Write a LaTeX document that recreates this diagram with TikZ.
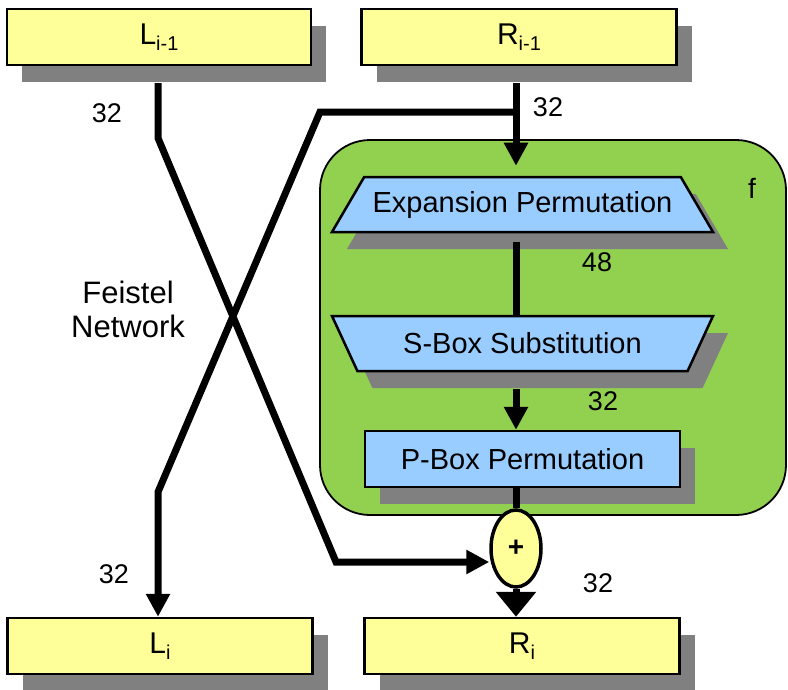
\documentclass[tikz,border=0pt]{standalone}
\usepackage{fontspec}
\setmainfont{Liberation Sans}
\usetikzlibrary{arrows.meta,shapes.geometric,shadows}
\definecolor{boxyellow}{HTML}{FFFF99}
\definecolor{boxblue}{HTML}{99CCFF}
\definecolor{fgreen}{HTML}{92D050}
\definecolor{shadowgray}{HTML}{808080}
\newcommand{\sbs}[1]{\raisebox{-6pt}{\fontsize{20}{20}\selectfont #1}}
\begin{document}
\begin{tikzpicture}[x=1pt,y=-1pt,
  shadowed/.style={general shadow={fill=shadowgray, shadow xshift=15pt, shadow yshift=-17pt}},
  regbox/.style={draw=black, line width=2.5pt, fill=boxyellow, shadowed, minimum height=56pt, inner sep=0pt, font=\fontsize{30}{30}\selectfont},
  opbox/.style={draw=black, line width=2.5pt, fill=boxblue, shadowed, minimum height=56pt, inner sep=0pt, font=\fontsize{29}{29}\selectfont},
  trap/.style={opbox, trapezium, trapezium stretches body=true, trapezium left angle=40, trapezium right angle=40, minimum width=381pt, minimum height=55pt},
  lbl/.style={font=\fontsize{27}{27}\selectfont, inner sep=0pt},
  conn/.style={draw=black, line width=7pt},
  tip/.style={-{Triangle[length=23pt,width=23pt]}},
  bigtip/.style={-{Triangle[length=25pt,width=39pt]}}
]
\useasboundingbox (0,0) rectangle (788,689);

% function block
\node[draw=black, line width=1.8pt, fill=fgreen, rounded corners=50pt,
      minimum width=466pt, minimum height=375pt, inner sep=0pt] (fblk) at (553,327.5) {};
\node[lbl, font=\fontsize{28}{28}\selectfont] (flbl) at (752,188) {f};

% registers
\node[regbox, minimum width=304pt] (Lp) at (159,37) {L\sbs{i-1}};
\node[regbox, minimum width=315pt] (Rp) at (519,37) {R\sbs{i-1}};
\node[regbox, minimum width=305pt] (Li) at (160,646) {L\sbs{i}};
\node[regbox, minimum width=315pt] (Ri) at (522,646) {R\sbs{i}};

% operations
\node[trap] (Exp) at (522.5,204.5) {Expansion Permutation};
\node[trap, shape border rotate=180] (Sbx) at (522.5,343.5) {S-Box Substitution};
\node[opbox, minimum width=315pt] (Pbx) at (522.5,459) {P-Box Permutation};
\node[draw=black, line width=3.5pt, fill=boxyellow, ellipse, minimum width=50pt,
      minimum height=77pt, inner sep=0pt, font=\fontsize{28}{28}\selectfont\bfseries] (xor) at (516,548.5) {+};

% labels
\node[lbl] (n1) at (107,113) {32};
\node[lbl] (n2) at (548,107) {32};
\node[lbl] (n3) at (114,574) {32};
\node[lbl] (n4) at (598,583) {32};
\node[lbl] (n5) at (603,401) {32};
\node[lbl] (n6) at (597,262) {48};
\node[align=center, font=\fontsize{31}{34}\selectfont, inner sep=0pt] (feist) at (128,309) {Feistel\\Network};

% coordinates
\coordinate (Ltop) at (158,83);
\coordinate (Lb1) at (158,138);
\coordinate (Lb2) at (336,562);
\coordinate (Rtop) at (516,83);
\coordinate (Rsplit) at (516,112);
\coordinate (Rb1) at (320,112);
\coordinate (Rb2) at (158,492);
\coordinate (Ea) at (516,242);
\coordinate (Sa) at (516,389);
\coordinate (Pa) at (516,487);

% connectors
\draw[conn, tip] (Ltop) -- (Lb1) -- (Lb2) -- (Lb2 -| xor.west);
\draw[conn, tip] (Rtop) -- ([yshift=10pt]Exp.north -| Rtop);
\draw[conn, tip] (Rsplit) -- (Rb1) -- (Rb2) -- (Rb2 |- Li.north);
\draw[conn] (Ea) -- (Ea |- Sbx.north);
\draw[conn, tip] (Sa) -- (Sa |- Pbx.north);
\draw[conn] (Pa) -- (xor.north);
\draw[conn, bigtip] (xor.south) -- (xor.south |- Ri.north);
\end{tikzpicture}
\end{document}
